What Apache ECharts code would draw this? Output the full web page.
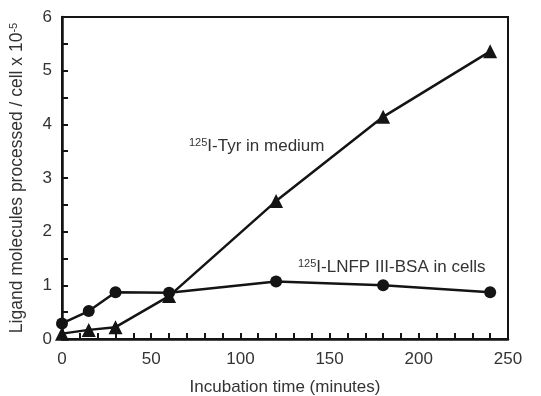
<!DOCTYPE html>
<html>
<head>
<meta charset="utf-8">
<script src="https://cdn.jsdelivr.net/npm/echarts@6/dist/echarts.min.js"></script>
<style>
  html, body { margin: 0; padding: 0; background: #fff; }
  #chart { width: 541px; height: 396px; }
</style>
</head>
<body>
<div id="chart"></div>
<script>
// incubation times (minutes)
var times = [0, 15, 30, 60, 120, 180, 240];
// 125I-LNFP III-BSA in cells (circles)
var cellsValues = [0.29, 0.52, 0.87, 0.86, 1.07, 1.00, 0.87];
// 125I-Tyr in medium (triangles)
var mediumValues = [0.10, 0.17, 0.22, 0.80, 2.57, 4.14, 5.36];

var ink = '#141414';
var textColor = '#333';
var font = 'Liberation Sans, Arial, sans-serif';

function pairs(xs, ys) {
    return xs.map(function (x, i) { return [x, ys[i]]; });
}

var supStyle = { fontSize: 11, verticalAlign: 'top', color: textColor, fill: textColor, fontFamily: font, padding: [0, 0, 7, 0] };

var chart = echarts.init(document.getElementById('chart'));
var option = {
    animation: false,
    grid: {
        left: 62,
        right: 33,
        top: 17,
        bottom: 57,
        outerBoundsMode: 'none',
        show: true,
        borderColor: ink,
        borderWidth: 2
    },
    xAxis: {
        type: 'value',
        min: 0,
        max: 250,
        interval: 50,
        name: 'Incubation time (minutes)',
        nameLocation: 'middle',
        nameGap: 40,
        nameTextStyle: { color: textColor, fontSize: 17, fontFamily: font },
        axisLine: { lineStyle: { color: ink, width: 2.5 } },
        axisTick: { inside: true, length: 6, lineStyle: { color: ink, width: 2 } },
        minorTick: { show: true, splitNumber: 5, length: 6, lineStyle: { color: ink, width: 2 } },
        axisLabel: { color: textColor, fontSize: 17, fontFamily: font, margin: 12 },
        splitLine: { show: false }
    },
    yAxis: {
        type: 'value',
        min: 0,
        max: 6,
        interval: 1,
        name: 'Ligand molecules processed / cell x 10{sup|-5}',
        nameLocation: 'middle',
        nameGap: 36,
        nameTextStyle: {
            color: textColor, fontSize: 17.5, fontFamily: font,
            rich: { sup: supStyle }
        },
        axisLine: { lineStyle: { color: ink, width: 2.5 } },
        axisTick: { inside: true, length: 6, lineStyle: { color: ink, width: 2 } },
        minorTick: { show: true, splitNumber: 2, length: 6, lineStyle: { color: ink, width: 2 } },
        axisLabel: { color: textColor, fontSize: 17, fontFamily: font, margin: 10 },
        splitLine: { show: false }
    },
    graphic: [
        {
            type: 'text',
            left: 189,
            top: 137,
            style: {
                text: '{sup|125}I-Tyr in medium',
                fill: textColor,
                font: '17px ' + font,
                rich: { sup: supStyle }
            }
        },
        {
            type: 'text',
            left: 298,
            top: 258,
            style: {
                text: '{sup|125}I-LNFP III-BSA in cells',
                fill: textColor,
                font: '17px ' + font,
                rich: { sup: supStyle }
            }
        }
    ],
    series: [
        {
            name: '125I-LNFP III-BSA in cells',
            type: 'line',
            data: pairs(times, cellsValues),
            symbol: 'circle',
            symbolSize: 12,
            itemStyle: { color: ink },
            lineStyle: { color: ink, width: 2.5 },
            z: 3
        },
        {
            name: '125I-Tyr in medium',
            type: 'line',
            data: pairs(times, mediumValues),
            symbol: 'triangle',
            symbolSize: 14,
            itemStyle: { color: ink },
            lineStyle: { color: ink, width: 2.5 },
            z: 4
        }
    ]
};
chart.setOption(option);
</script>
</body>
</html>
